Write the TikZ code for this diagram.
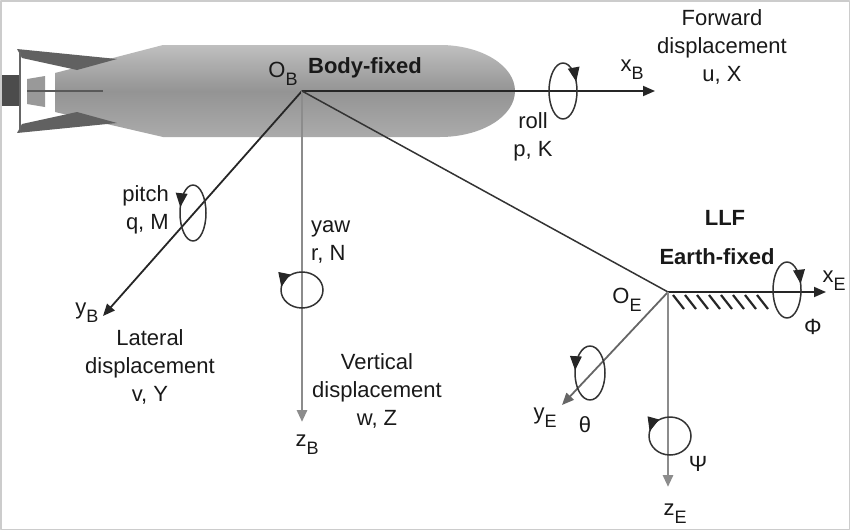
\documentclass[tikz,border=0pt]{standalone}
\usepackage{fontspec}
\setmainfont{Liberation Sans}
\usetikzlibrary{arrows.meta}
\newcommand{\lbl}[2]{#1\raisebox{-8pt}{\fontsize{18}{18}\selectfont #2}}

\begin{document}
\begin{tikzpicture}[x=1pt,y=-1pt,line join=round,
  every node/.style={font=\fontsize{22}{28}\selectfont,text=black!90,inner sep=0pt},
  title/.style={font=\fontsize{22}{28}\selectfont\bfseries},
  hull/.style={top color=black!25,bottom color=black!33,middle color=black!42,draw=none},
  axis/.style={black!85,line width=1.8pt,-{Triangle[length=12pt,width=10pt]}},
  greyaxis/.style={axis,black!45,line width=2.8pt},
  spin/.style={black!80,line width=1.5pt},
  spintip/.style={fill=black!85},
  hatch/.style={black!85,line width=2.2pt}]
\useasboundingbox (0,0) rectangle (850,530);
\draw[black!20,line width=1.5pt] (0.75,0.75) rectangle (849.25,529.25);

% vehicle
\path[hull] (55,73) -- (163,45) -- (440,45) arc[start angle=-90,end angle=90,x radius=75,y radius=46] -- (163,137) -- (55,112) -- cycle;
\fill[black!62] (17,49) -- (117,59) -- (77,70) -- (22,58) -- cycle;
\fill[black!62] (17,133) -- (117,123) -- (77,112) -- (22,124) -- cycle;
\draw[black!60,line width=1.5pt] (20,52) -- (20,130);
\fill[black!70] (2,75) rectangle (19,106);
\fill[black!40] (27,79) -- (45,76) -- (45,107) -- (27,104) -- cycle;
\draw[black!65,line width=2.5pt] (27,91) -- (103,91);

% origins and axis ends
\coordinate (OB) at (302,91);
\coordinate (OE) at (668,292);
\coordinate (xB) at (655,91);
\coordinate (yB) at (103,316);
\coordinate (zB) at (302,422);
\coordinate (xE) at (826,292);
\coordinate (yE) at (562,405);
\coordinate (zE) at (668,487);

\draw[axis] (OB) -- (xB);
\draw[axis] (OB) -- (yB);
\draw[greyaxis] (OB) -- (zB);
\draw[black!80,line width=1.5pt] (OB) -- (OE);
\draw[axis] (OE) -- (xE);
\draw[axis,black!60] (OE) -- (yE);
\draw[greyaxis] (OE) -- (zE);
\foreach \x in {673,685,...,757}
  \draw[hatch] (\x,295) -- ++(11,14);

% rotations
\coordinate (roll) at (563,91);
\coordinate (pitch) at (193,213);
\coordinate (yaw) at (302,290);
\coordinate (phi) at (787,290);
\coordinate (theta) at (590,373);
\coordinate (psi) at (670,436);
\foreach \n/\rx/\ry/\b/\s in {roll/14/28/-20/1,pitch/13/28/-168/-1,yaw/21/18/-170/-1,phi/14/28/-13/1,theta/15/27/-174/-1,psi/21/19/-166/-1}{
  \draw[spin] (\n) ellipse[x radius=\rx,y radius=\ry];
  \pgfmathsetmacro\ang{atan2(-\s*\ry*cos(\b),-\s*\rx*sin(\b))}
  \path[spintip,shift={([shift={(\b:{\rx} and {\ry})}]\n)},rotate=\ang] (0,0) -- (-14,6) -- (-14,-6) -- cycle;
}

% labels
\node (OBlbl) at (283,74) {\lbl{O}{B}};
\node[title] (body) at (365,68) {Body-fixed};
\node[align=center] (fwd) at (722,47) {Forward\\displacement\\u, X};
\node (xBlbl) at (632,70) {\lbl{x}{B}};
\node[align=center] (rolllbl) at (533,137) {roll\\p, K};
\node[align=right,anchor=east] (pitchlbl) at (169,210) {pitch\\q, M};
\node[align=left,anchor=west] (yawlbl) at (311,242) {yaw\\r, N};
\node (yBlbl) at (87,313) {\lbl{y}{B}};
\node[align=center] (latlbl) at (150,367) {Lateral\\displacement\\v, Y};
\node (zBlbl) at (307,445) {\lbl{z}{B}};
\node[align=center] (vertlbl) at (377,391) {Vertical\\displacement\\w, Z};
\node[title] (llf) at (725,218) {LLF};
\node[title] (earth) at (717,257) {Earth-fixed};
\node (OElbl) at (627,300) {\lbl{O}{E}};
\node (xElbl) at (834,281) {\lbl{x}{E}};
\node (philbl) at (813,327) {Φ};
\node (yElbl) at (545,418) {\lbl{y}{E}};
\node (thetalbl) at (585,425) {θ};
\node (psilbl) at (698,464) {Ψ};
\node (zElbl) at (675,514) {\lbl{z}{E}};
\end{tikzpicture}
\end{document}
